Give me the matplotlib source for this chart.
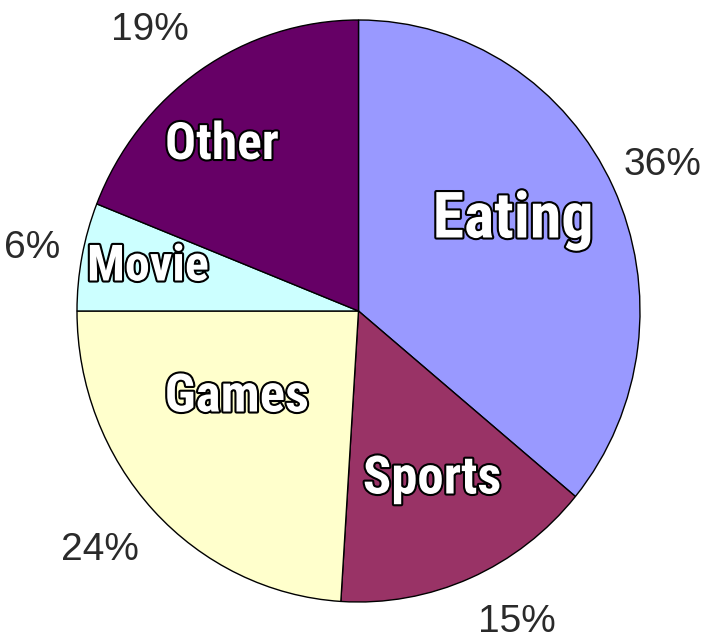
import matplotlib
matplotlib.use("Agg")
import matplotlib.pyplot as plt
import matplotlib.patheffects as pe

categories = ["Eating", "Sports", "Games", "Movie", "Other"]
values = [36, 15, 24, 6, 19]
colors = ["#9999FF", "#993366", "#FFFFCC", "#CCFFFF", "#660066"]
pct_labels = ["36%", "15%", "24%", "6%", "19%"]

W, H = 707, 641
fig = plt.figure(figsize=(W / 100, H / 100), dpi=100)
ax = fig.add_axes([0, 0, 1, 1])

cx, cy, rx, ry = 358.5, 311.0, 281.5, 291.0
ax.pie(values, colors=colors, startangle=90, counterclock=False,
       wedgeprops=dict(edgecolor="black", linewidth=1.0))
ax.set_aspect("auto")
ax.set_xlim(-cx / rx, (W - cx) / rx)
ax.set_ylim((cy - H) / ry, cy / ry)
ax.axis("off")

# label positions (pixels from top-left)
name_pos = [(513, 220), (432, 479), (237, 397), (148, 267), (222, 145)]
name_size = [46, 38, 38, 36, 37]
pct_pos = [(662, 165), (517, 622), (100, 550), (32, 248), (150, 30)]

for name, (x, y), s in zip(categories, name_pos, name_size):
    fig.text(x / W, 1 - y / H, name, ha="center", va="center",
             fontsize=s, fontweight="bold", fontstretch="condensed",
             family=["Roboto Condensed", "DejaVu Sans"],
             color="white",
             path_effects=[pe.withStroke(linewidth=3.0, foreground="black")])

for lab, (x, y) in zip(pct_labels, pct_pos):
    fig.text(x / W, 1 - y / H, lab, ha="center", va="center",
             fontsize=28, family=["Liberation Sans", "DejaVu Sans"], color="#2a2a2a")

fig.savefig("out.png", dpi=100)
